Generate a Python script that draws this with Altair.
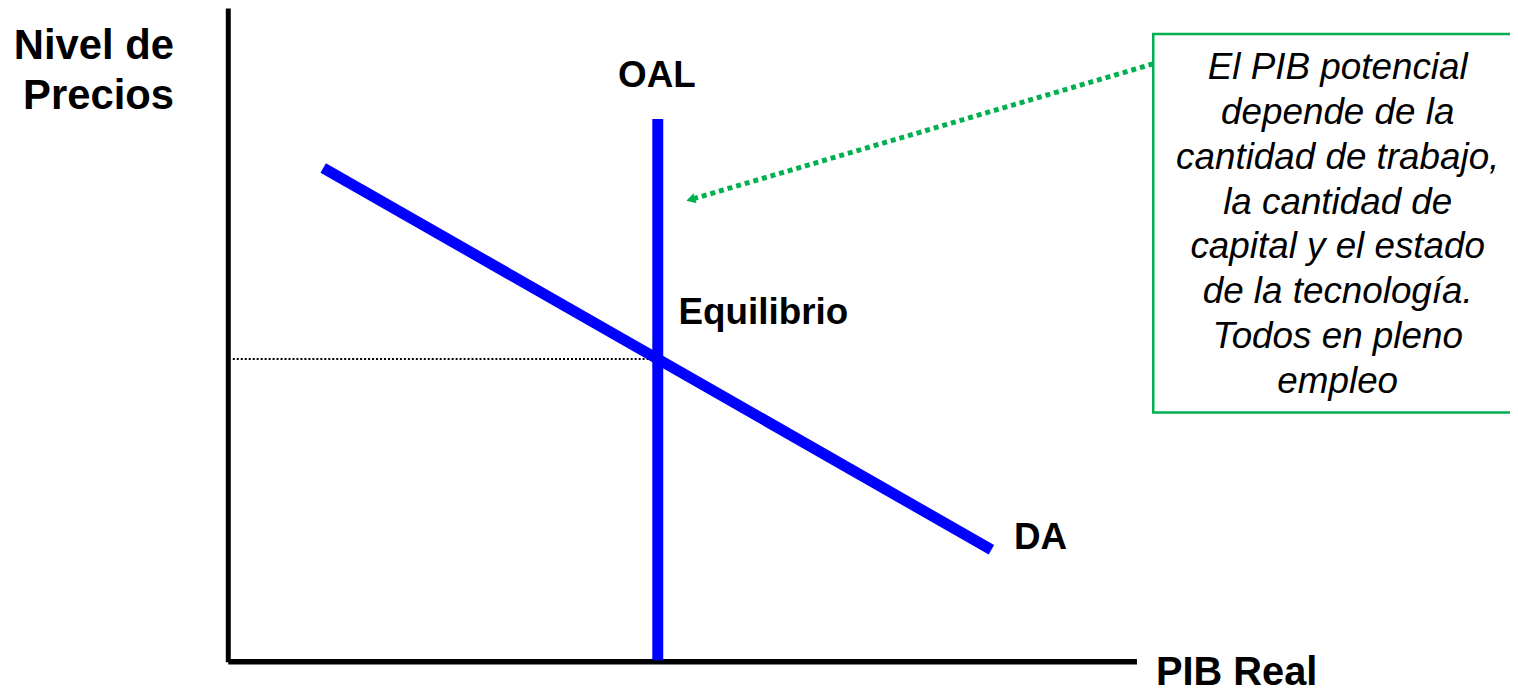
import math
import altair as alt
import pandas as pd

# Units: x = PIB real (0-100), y = nivel de precios (0-100)
x_domain = [0, 100]
y_domain = [0, 100]

# Axes extents
axis_origin_x = -0.5
x_axis_x = [axis_origin_x, 100]
y_axis_y = [-0.3, 100.2]

# Long-run aggregate supply (vertical) and aggregate demand
oal_x = [47, 47]
oal_y = [0, 83.2]
da_x = [10, 83.9]
da_y = [75.7, 17]

# Equilibrium price level: intersection of DA with OAL
slope = (da_y[1] - da_y[0]) / (da_x[1] - da_x[0])
eq_y = da_y[0] + slope * (oal_x[0] - da_x[0])
eq_x = [0, oal_x[0]]
eq_yy = [eq_y, eq_y]

# Annotation arrow and box
arrow_x = [101.8, 50.8]
arrow_y = [91.7, 70.9]
box_x = [101.8, 142.7]
box_y = [38.1, 96.3]
box_lines = [
    "El PIB potencial",
    "depende de la",
    "cantidad de trabajo,",
    "la cantidad de",
    "capital y el estado",
    "de la tecnología.",
    "Todos en pleno",
    "empleo",
]
box_text_pos = [122.2, 89.3]

# Labels
oal_label = ["OAL", 46.9, 88.1]
eq_label = ["Equilibrio", 49.3, 51.7]
da_label = ["DA", 86.4, 17.1]
y_title = ["Nivel de\nPrecios", -6.5, 92.4]
x_title = ["PIB Real", 102.1, -3.8]

W, H = 909, 654
FONT = "Liberation Sans"
GREEN = "#00B050"
BLUE = "#0000FF"

xs = alt.Scale(domain=x_domain, nice=False, zero=False)
ys = alt.Scale(domain=y_domain, nice=False, zero=False)


def X(field="x"):
    return alt.X(f"{field}:Q", scale=xs, axis=None)


def Y(field="y"):
    return alt.Y(f"{field}:Q", scale=ys, axis=None)


oal_df = pd.DataFrame({"x": oal_x, "y": oal_y})
da_df = pd.DataFrame({"x": da_x, "y": da_y})
eq_df = pd.DataFrame({"x": eq_x, "y": eq_yy})
arrow_df = pd.DataFrame({"x": arrow_x, "y": arrow_y, "o": [0, 1]})
box_df = pd.DataFrame({"x": [box_x[0]], "x2": [box_x[1]], "y": [box_y[0]], "y2": [box_y[1]]})
xaxis_df = pd.DataFrame({"x": [x_axis_x[0]], "x2": [x_axis_x[1]], "y": [-0.2]})
yaxis_df = pd.DataFrame({"x": [axis_origin_x], "y": [y_axis_y[0]], "y2": [y_axis_y[1]]})

# Arrow head angle in screen space
dxp = (arrow_x[1] - arrow_x[0]) * W / (x_domain[1] - x_domain[0])
dyp = -(arrow_y[1] - arrow_y[0]) * H / (y_domain[1] - y_domain[0])
head_angle = math.degrees(math.atan2(dxp, -dyp)) % 360

layers = []

# axes lines
layers.append(
    alt.Chart(yaxis_df).mark_rule(color="black", strokeWidth=5, strokeCap="butt")
    .encode(x=X(), y=Y(), y2="y2:Q")
)
layers.append(
    alt.Chart(xaxis_df).mark_rule(color="black", strokeWidth=5.5, strokeCap="butt")
    .encode(x=X(), x2="x2:Q", y=Y())
)
# dotted equilibrium line
layers.append(
    alt.Chart(eq_df).mark_line(color="black", strokeWidth=2, strokeDash=[2, 2])
    .encode(x=X(), y=Y())
)
# DA
layers.append(
    alt.Chart(da_df).mark_line(color=BLUE, strokeWidth=11, strokeCap="butt")
    .encode(x=X(), y=Y())
)
# OAL
layers.append(
    alt.Chart(oal_df).mark_line(color=BLUE, strokeWidth=11, strokeCap="butt")
    .encode(x=X(), y=Y())
)
# box
layers.append(
    alt.Chart(box_df).mark_rect(fill="white", stroke=GREEN, strokeWidth=2.5)
    .encode(x=X(), x2="x2:Q", y=Y(), y2="y2:Q")
)
# arrow
layers.append(
    alt.Chart(arrow_df).mark_line(color=GREEN, strokeWidth=5, strokeDash=[5, 4], strokeCap="butt")
    .encode(x=X(), y=Y(), order="o:Q")
)
layers.append(
    alt.Chart(arrow_df.iloc[[1]]).mark_point(shape="triangle", filled=True, color=GREEN,
                                             size=110, angle=head_angle, opacity=1)
    .encode(x=X(), y=Y())
)

# box text
box_txt_df = pd.DataFrame({"x": [box_text_pos[0]], "y": [box_text_pos[1]],
                           "t": ["\n".join(box_lines)]})
layers.append(
    alt.Chart(box_txt_df).mark_text(font=FONT, fontSize=37, fontStyle="italic",
                                    align="center", baseline="alphabetic",
                                    lineBreak="\n", lineHeight=45, color="black")
    .encode(x=X(), y=Y(), text="t:N")
)


def label(spec, align, size, line_height=None):
    df = pd.DataFrame({"x": [spec[1]], "y": [spec[2]], "t": [spec[0]]})
    kw = dict(font=FONT, fontSize=size, fontWeight="bold", align=align,
              baseline="alphabetic", color="black")
    if line_height:
        kw.update(lineBreak="\n", lineHeight=line_height)
    return alt.Chart(df).mark_text(**kw).encode(x=X(), y=Y(), text="t:N")


layers.append(label(oal_label, "center", 37))
layers.append(label(eq_label, "left", 37))
layers.append(label(da_label, "left", 37))
layers.append(label(y_title, "right", 42, 50))
layers.append(label(x_title, "left", 40))

chart = (
    alt.layer(*layers)
    .properties(width=W, height=H, autosize="none",
                padding={"left": 226, "top": 0, "right": 375, "bottom": 32})
    .configure_view(stroke=None)
)

chart.save("out.html", embed_options={"renderer": "svg", "actions": False})
